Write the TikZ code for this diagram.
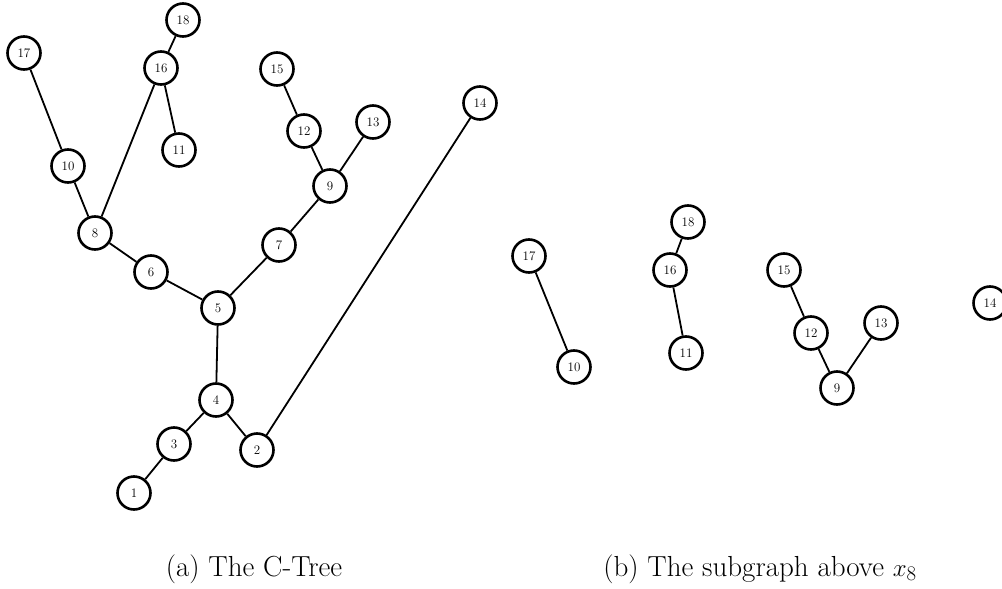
\documentclass[tikz,border=0pt]{standalone}
\begin{document}
\begin{tikzpicture}[x=1pt,y=-1pt,
  vtx/.style={circle,draw,line width=2.6pt,minimum size=33pt,inner sep=0pt,fill=white,font=\fontsize{13}{13}\selectfont},
  edge/.style={line width=1.8pt},
  captxt/.style={font=\fontsize{29}{32}\selectfont,anchor=base}]
\useasboundingbox (0,0) rectangle (1002,589);
% (a)
\node[vtx] (a17) at (24,53) {17};
\node[vtx] (a18) at (183,20) {18};
\node[vtx] (a16) at (161,68) {16};
\node[vtx] (a11) at (179,150) {11};
\node[vtx] (a15) at (277,69) {15};
\node[vtx] (a12) at (304,131) {12};
\node[vtx] (a13) at (373,122) {13};
\node[vtx] (a9) at (330,186) {9};
\node[vtx] (a14) at (480,103) {14};
\node[vtx] (a10) at (68,166) {10};
\node[vtx] (a8) at (95,233) {8};
\node[vtx] (a7) at (279,245) {7};
\node[vtx] (a6) at (151,272) {6};
\node[vtx] (a5) at (218,308) {5};
\node[vtx] (a4) at (216,400) {4};
\node[vtx] (a3) at (174,444) {3};
\node[vtx] (a2) at (257,450) {2};
\node[vtx] (a1) at (134,493) {1};
\draw[edge] (a17) -- (a10);
\draw[edge] (a10) -- (a8);
\draw[edge] (a8) -- (a16);
\draw[edge] (a16) -- (a18);
\draw[edge] (a16) -- (a11);
\draw[edge] (a8) -- (a6);
\draw[edge] (a6) -- (a5);
\draw[edge] (a5) -- (a7);
\draw[edge] (a7) -- (a9);
\draw[edge] (a9) -- (a12);
\draw[edge] (a12) -- (a15);
\draw[edge] (a9) -- (a13);
\draw[edge] (a5) -- (a4);
\draw[edge] (a4) -- (a3);
\draw[edge] (a3) -- (a1);
\draw[edge] (a4) -- (a2);
\draw[edge] (a2) -- (a14);
% (b)
\node[vtx] (b17) at (529,256) {17};
\node[vtx] (b10) at (574,367) {10};
\node[vtx] (b18) at (688,222) {18};
\node[vtx] (b16) at (670,270) {16};
\node[vtx] (b11) at (686,353) {11};
\node[vtx] (b15) at (784,270) {15};
\node[vtx] (b12) at (811,333) {12};
\node[vtx] (b13) at (881,323) {13};
\node[vtx] (b9) at (837,388) {9};
\node[vtx] (b14) at (990,303) {14};
\draw[edge] (b17) -- (b10);
\draw[edge] (b18) -- (b16);
\draw[edge] (b16) -- (b11);
\draw[edge] (b15) -- (b12);
\draw[edge] (b12) -- (b9);
\draw[edge] (b9) -- (b13);
% captions
\node[captxt] (capa) at (254,576) {(a) The C-Tree};
\node[captxt] (capb) at (760,576) {(b) The subgraph above $x_8$};
\end{tikzpicture}
\end{document}
